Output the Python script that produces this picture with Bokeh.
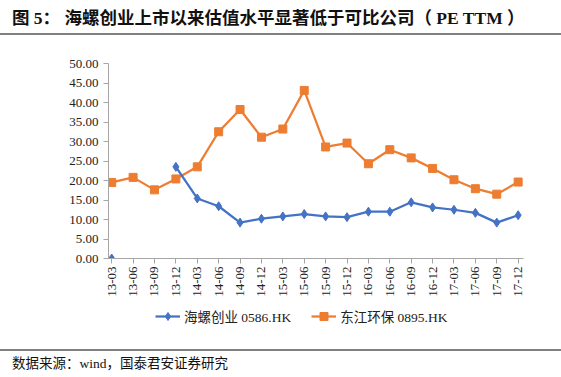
import math
from bokeh.plotting import figure
from bokeh.layouts import column
from bokeh.models import (ColumnDataSource, Legend, LegendItem, FixedTicker,
                          Range1d, NumeralTickFormatter, Div)
from bokeh.embed import file_html
from bokeh.resources import INLINE

categories = ["13-03", "13-06", "13-09", "13-12", "14-03", "14-06", "14-09", "14-12",
              "15-03", "15-06", "15-09", "15-12", "16-03", "16-06", "16-09", "16-12",
              "17-03", "17-06", "17-09", "17-12"]
hailuo = [0.0, float("nan"), float("nan"), 23.5, 15.4, 13.4, 9.2, 10.2, 10.8, 11.4,
          10.8, 10.6, 12.0, 12.0, 14.4, 13.1, 12.5, 11.7, 9.2, 11.1]
dongjiang = [19.5, 20.8, 17.6, 20.4, 23.5, 32.5, 38.2, 31.1, 33.2, 43.1,
             28.6, 29.6, 24.3, 27.9, 25.8, 23.1, 20.2, 17.9, 16.5, 19.6]
y_ticks = [0, 5, 10, 15, 20, 25, 30, 35, 40, 45, 50]
series_names = ["海螺创业 0586.HK", "东江环保 0895.HK"]
title_text = "图 5： 海螺创业上市以来估值水平显著低于可比公司（ PE TTM ）"
source_text = "数据来源：wind，国泰君安证券研究"

BLUE = "#4472C4"
ORANGE = "#ED7D31"
AXIS = "#A6A6A6"
SERIF = "'Liberation Serif', 'Noto Sans CJK SC'"
CSS_FONT = "'Liberation Serif','Noto Sans CJK SC',serif"

W = 561
TITLE_H, FIG_H, LEG_H, FOOT_H = 36, 272, 28, 41

title_div = Div(width=W, height=TITLE_H, margin=0, text=(
    f'<div style="width:{W}px;height:35px;box-sizing:border-box;'
    f'border-bottom:2px solid #808080;padding:8px 0 0 12px;font-family:{CSS_FONT};'
    f'font-weight:bold;font-size:17.5px;line-height:20px;color:#111;'
    f'white-space:pre;">{title_text}</div>'))

foot_div = Div(width=W, height=FOOT_H, margin=0, text=(
    f'<div style="width:{W}px;height:{FOOT_H}px;box-sizing:border-box;'
    f'padding-top:13px;"><div style="border-top:2px solid #808080;padding:6px 0 0 12px;'
    f'font-family:{CSS_FONT};font-size:13.5px;line-height:14px;color:#111;'
    f'white-space:nowrap;">{source_text}</div></div>'))

p = figure(width=W, height=FIG_H, output_backend="svg", toolbar_location=None,
           margin=0, min_border_left=108, min_border_right=38, min_border_top=27,
           min_border_bottom=50, x_range=Range1d(-0.15, 19.25), y_range=Range1d(0, 50))
p.outline_line_color = None
p.xgrid.grid_line_color = None
p.ygrid.grid_line_color = None

x = list(range(len(categories)))
src = ColumnDataSource(dict(x=x, a=hailuo, b=dongjiang))

p.line("x", "b", source=src, line_color=ORANGE, line_width=2.25)
p.scatter("x", "b", source=src, marker="square", size=8, fill_color=ORANGE,
          line_color=ORANGE)
p.line("x", "a", source=src, line_color=BLUE, line_width=2.25)
p.scatter("x", "a", source=src, marker="diamond", size=9, fill_color=BLUE,
          line_color=BLUE)

p.xaxis.ticker = FixedTicker(ticks=x)
p.xaxis.major_label_overrides = {i: c for i, c in enumerate(categories)}
p.xaxis.major_label_orientation = math.pi / 2
p.xaxis.major_label_standoff = 3
p.yaxis.ticker = FixedTicker(ticks=y_ticks)
p.yaxis.formatter = NumeralTickFormatter(format="0.00")
p.yaxis.major_label_standoff = 5
for ax in (p.xaxis, p.yaxis):
    ax.axis_line_color = AXIS
    ax.major_tick_line_color = AXIS
    ax.major_tick_out = 5
    ax.major_tick_in = 0
    ax.minor_tick_line_color = None
    ax.major_label_text_font = SERIF
    ax.major_label_text_font_size = "13px"
    ax.major_label_text_color = "#222222"

# legend figure: same glyph styles, sample data kept outside its visible range
lg = figure(width=W, height=LEG_H, output_backend="svg", toolbar_location=None,
            margin=0, min_border=0, x_axis_location=None, y_axis_location=None,
            x_range=Range1d(0, 1), y_range=Range1d(0, 1))
lg.outline_line_color = None
lg.xgrid.grid_line_color = None
lg.ygrid.grid_line_color = None
hidden = ColumnDataSource(dict(x=[-5, -4], y=[-5, -4]))
la = lg.line("x", "y", source=hidden, line_color=BLUE, line_width=2.25)
sa = lg.scatter("x", "y", source=hidden, marker="diamond", size=8, fill_color=BLUE,
                line_color=BLUE)
lb = lg.line("x", "y", source=hidden, line_color=ORANGE, line_width=2.25)
sb = lg.scatter("x", "y", source=hidden, marker="square", size=7, fill_color=ORANGE,
                line_color=ORANGE)
legend = Legend(items=[LegendItem(label=series_names[0], renderers=[la, sa]),
                       LegendItem(label=series_names[1], renderers=[lb, sb])],
                orientation="horizontal", location=(47, 10),
                label_text_font=SERIF, label_text_font_size="13.5px",
                label_text_color="#222222", glyph_width=25, glyph_height=20,
                label_standoff=4, spacing=20,
                background_fill_alpha=0, border_line_color=None, padding=0, margin=0)
lg.add_layout(legend, "center")

layout = column(title_div, p, lg, foot_div, spacing=0, margin=0)

with open("out.html", "w") as f:
    f.write(file_html(layout, INLINE))
